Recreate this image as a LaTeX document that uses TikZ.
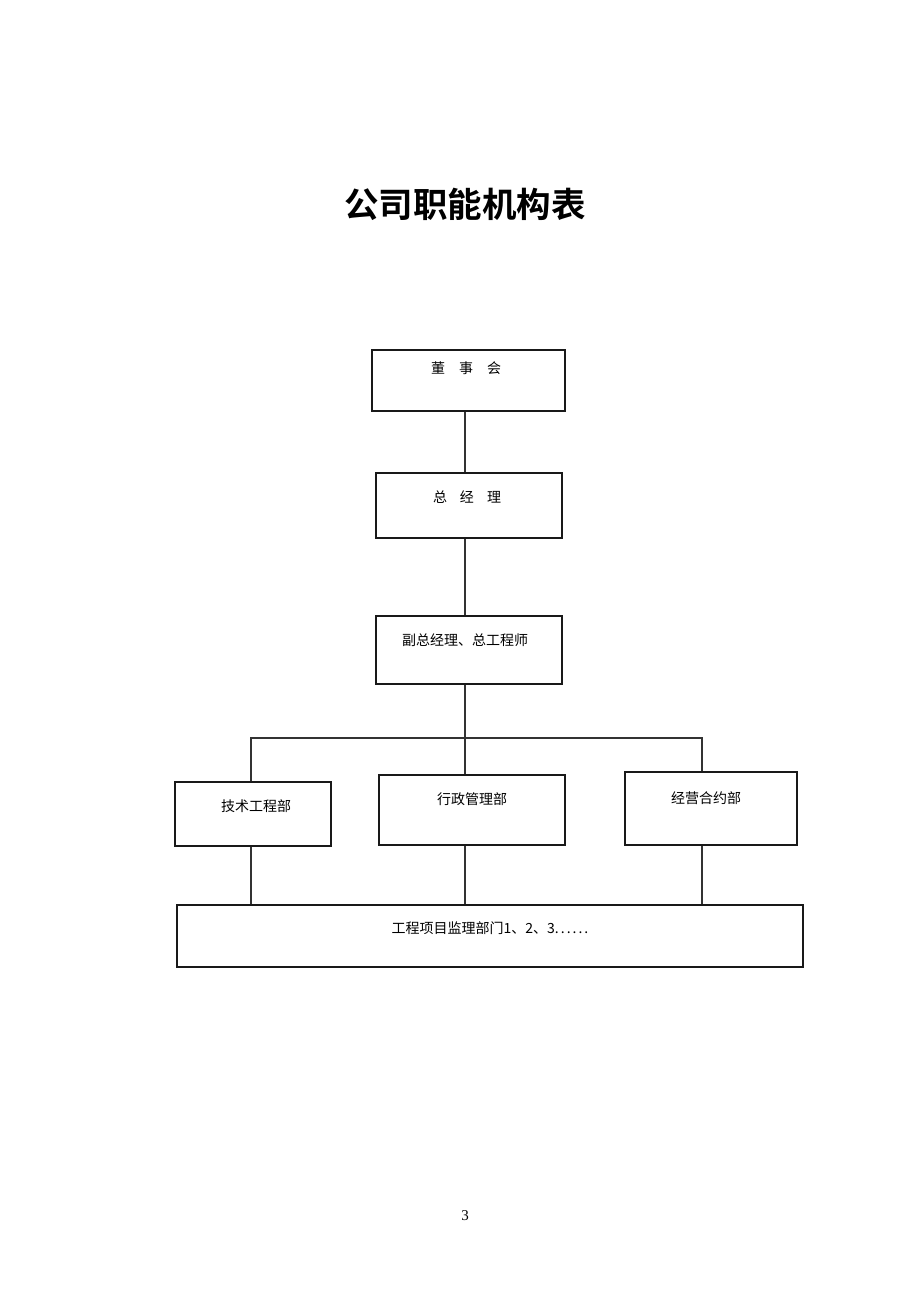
\documentclass[tikz,border=0pt]{standalone}
\usepackage{fontspec}
\setmainfont{Liberation Serif}
\newfontfamily\cjk{Noto Sans CJK SC}
\newfontfamily\cjkbold{Noto Sans CJK SC Bold}
\begin{document}
\begin{tikzpicture}[x=1pt,y=-1pt,
  box/.style={draw=black!90,line width=1.1pt,rectangle,inner sep=0pt,fill=none},
  lbl/.style={inner sep=0pt,font=\cjk\fontsize{14pt}{16pt}\selectfont,text=black},
  conn/.style={draw=black!80,line width=1.1pt}]
\useasboundingbox (0,0) rectangle (920,1302);
\fill[white] (0,0) rectangle (920,1302);
% title
\node[inner sep=0pt,font=\cjkbold\fontsize{34.5pt}{38pt}\selectfont] (title) at (465,204) {公司职能机构表};
% boxes
\node[box,minimum width=193pt,minimum height=61pt] (b1) at (468.5,380.5) {};
\node[box,minimum width=186pt,minimum height=65pt] (b2) at (469,505.5) {};
\node[box,minimum width=186pt,minimum height=68pt] (b3) at (469,650) {};
\node[box,minimum width=156pt,minimum height=64pt] (b4) at (253,814) {};
\node[box,minimum width=186pt,minimum height=70pt] (b5) at (472,810) {};
\node[box,minimum width=172pt,minimum height=73pt] (b6) at (711,808.5) {};
\node[box,minimum width=626pt,minimum height=62pt] (b7) at (490,936) {};
% labels
\node[lbl] (t1) at (466,368) {董\hspace{14pt}事\hspace{14pt}会};
\node[lbl] (t2) at (467,497) {总\hspace{13pt}经\hspace{13pt}理};
\node[lbl] (t3) at (465,640) {副总经理、总工程师};
\node[lbl] (t4) at (256,806) {技术工程部};
\node[lbl] (t5) at (472,799) {行政管理部};
\node[lbl] (t6) at (706,798) {经营合约部};
\node[lbl] (t7) at (490,928) {工程项目监理部门1、2、3.\hspace{2pt}.\hspace{2pt}.\hspace{2pt}.\hspace{2pt}.\hspace{2pt}.};
% page number
\node[inner sep=0pt,font=\fontsize{15pt}{17pt}\selectfont] (pg) at (465,1216) {3};
% bus coordinates
\coordinate (bus) at (465,738);
\coordinate (busL) at (251,738);
\coordinate (busR) at (702,738);
% connectors
\draw[conn] (b1.south -| bus) -- (b2.north -| bus);
\draw[conn] (b2.south -| bus) -- (b3.north -| bus);
\draw[conn] (b3.south -| bus) -- (bus);
\draw[conn] (busL |- b4.north) -- (busL) -- (busR) -- (busR |- b6.north);
\draw[conn] (bus) -- (bus |- b5.north);
\draw[conn] (b4.south -| busL) -- (b7.north -| busL);
\draw[conn] (b5.south -| bus) -- (b7.north -| bus);
\draw[conn] (b6.south -| busR) -- (b7.north -| busR);
\end{tikzpicture}
\end{document}
